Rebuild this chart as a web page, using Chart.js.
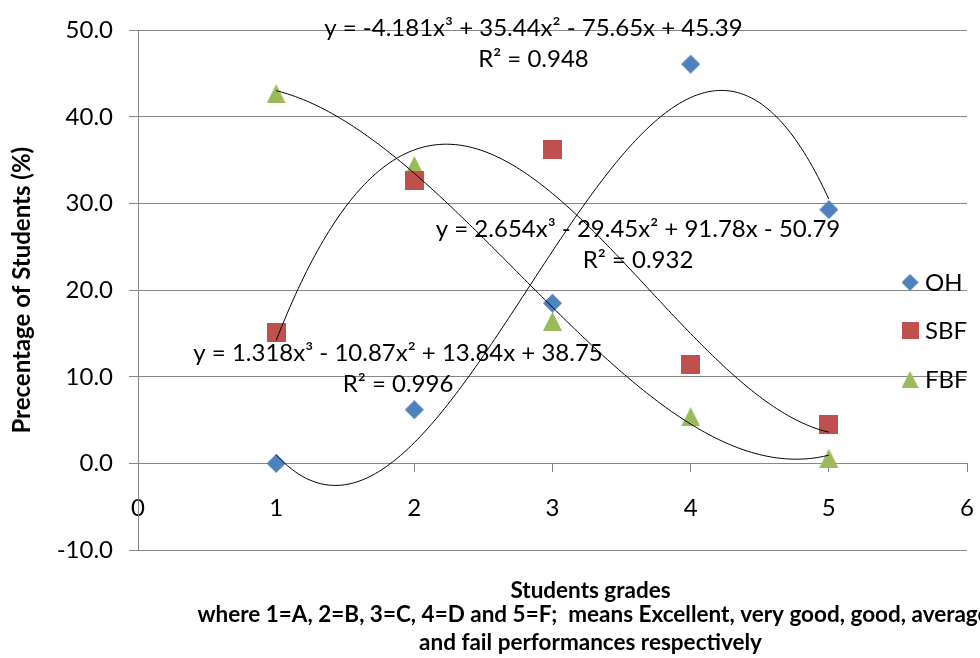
<!DOCTYPE html>
<html>
<head>
<meta charset="utf-8">
<title>Students grades</title>
<script src="https://cdn.jsdelivr.net/npm/chart.js@4.4.1/dist/chart.umd.min.js"></script>
<style>
  html, body { margin: 0; padding: 0; background: #fff; }
  canvas { display: block; }
</style>
</head>
<body>
<canvas id="gradesChart" width="980" height="658"></canvas>
<script>
// ---------- DATA ----------
const grades = [1, 2, 3, 4, 5];
const ohValues = [0, 6.2, 18.5, 46.1, 29.3];
const sbfValues = [15.1, 32.7, 36.2, 11.4, 4.5];
const fbfValues = [42.7, 34.4, 16.4, 5.4, 0.6];

// cubic trendline coefficients as printed on the chart (x³, x², x, const)
const ohFit = [-4.181, 35.44, -75.65, 45.39];
const sbfFit = [2.654, -29.45, 91.78, -50.79];
const fbfFit = [1.318, -10.87, 13.84, 38.75];

const ohLabel = ['y = -4.181x³ + 35.44x² - 75.65x + 45.39', 'R² = 0.948'];
const sbfLabel = ['y = 2.654x³ - 29.45x² + 91.78x - 50.79', 'R² = 0.932'];
const fbfLabel = ['y = 1.318x³ - 10.87x² + 13.84x + 38.75', 'R² = 0.996'];

const seriesNames = ['OH', 'SBF', 'FBF'];
const yTitle = 'Precentage of Students (%)';
const xTitle = [
  'Students grades',
  'where 1=A, 2=B, 3=C, 4=D and 5=F;  means Excellent, very good, good, average',
  'and fail performances respectively'
];

const colors = { OH: '#4F81BD', SBF: '#C0504D', FBF: '#9BBB59' };
const FONT = 'Lato, "Open Sans", sans-serif';

// ---------- MARKERS (excel style, centred in their box) ----------
function makeMarker(shape, size, color) {
  const c = document.createElement('canvas');
  c.width = size; c.height = size;
  const g = c.getContext('2d');
  g.fillStyle = color;
  g.beginPath();
  if (shape === 'diamond') {
    g.moveTo(size / 2, 0); g.lineTo(size, size / 2); g.lineTo(size / 2, size); g.lineTo(0, size / 2);
  } else if (shape === 'triangle') {
    g.moveTo(size / 2, 0); g.lineTo(size, size); g.lineTo(0, size);
  } else {
    g.rect(0, 0, size, size);
  }
  g.closePath();
  g.fill();
  return c;
}

const markers = {
  OH: makeMarker('diamond', 19, colors.OH),
  SBF: makeMarker('square', 19, colors.SBF),
  FBF: makeMarker('triangle', 19, colors.FBF)
};

function toPoints(xs, ys) {
  return xs.map((x, i) => ({ x: x, y: ys[i] }));
}

// trendline drawn from the printed equation, between first and last grade
function trendPoints(c) {
  const pts = [];
  const from = grades[0], to = grades[grades.length - 1];
  for (let i = 0; i <= 200; i++) {
    const x = from + (to - from) * i / 200;
    pts.push({ x: x, y: ((c[0] * x + c[1]) * x + c[2]) * x + c[3] });
  }
  return pts;
}

function trendSet(c) {
  return {
    type: 'line',
    data: trendPoints(c),
    borderColor: '#000',
    borderWidth: 1,
    pointRadius: 0,
    fill: false,
    tension: 0,
    order: 0
  };
}

function pointSet(name, values) {
  return {
    label: name,
    data: toPoints(grades, values),
    pointStyle: markers[name],
    pointRadius: 10,
    backgroundColor: colors[name],
    borderColor: colors[name],
    showLine: false,
    order: 1
  };
}

// ---------- TEXT: equations, legend, axis titles ----------
const equations = [
  { lines: ohLabel, x: 2.862, y: 49.33 },
  { lines: sbfLabel, x: 3.619, y: 26.1 },
  { lines: fbfLabel, x: 1.882, y: 11.8 }
];

const textPlugin = {
  id: 'chartTexts',
  afterDraw(chart) {
    const { ctx, chartArea: area, scales } = chart;
    ctx.save();
    ctx.fillStyle = '#000';

    // trendline equations
    ctx.font = '24px ' + FONT;
    ctx.textAlign = 'center';
    ctx.textBaseline = 'alphabetic';
    equations.forEach(eq => {
      const px = scales.x.getPixelForValue(eq.x);
      const py = scales.y.getPixelForValue(eq.y);
      eq.lines.forEach((t, i) => ctx.fillText(t, px, py + i * 31));
    });

    // legend
    ctx.textAlign = 'left';
    seriesNames.forEach((name, i) => {
      const cy = area.top + 252 + i * 48.5;
      ctx.drawImage(markers[name], area.right - 65.5, cy - 8.5, 17, 17);
      ctx.fillText(name, area.right - 42, cy + 8.5);
    });

    // y title
    ctx.font = 'bold 24px ' + FONT;
    ctx.save();
    ctx.translate(22, (area.top + area.bottom) / 2);
    ctx.rotate(-Math.PI / 2);
    ctx.textAlign = 'center';
    ctx.textBaseline = 'middle';
    ctx.fillText(yTitle, 0, 0);
    ctx.restore();

    // x title block
    ctx.font = 'bold 22.5px ' + FONT;
    ctx.textAlign = 'center';
    const cx = (area.left + area.right) / 2 + 38;
    ctx.fillText(xTitle[0], cx, 597.5);
    ctx.fillText(xTitle[1], cx + 3, 621.5);
    ctx.fillText(xTitle[2], cx, 650);
    ctx.restore();
  }
};

// ---------- CHART ----------
const chart = new Chart(document.getElementById('gradesChart').getContext('2d'), {
  type: 'scatter',
  data: {
    datasets: [
      trendSet(ohFit),
      trendSet(sbfFit),
      trendSet(fbfFit),
      pointSet('OH', ohValues),
      pointSet('SBF', sbfValues),
      pointSet('FBF', fbfValues)
    ]
  },
  options: {
    responsive: false,
    animation: false,
    layout: { padding: { left: 0, top: 27, right: 13, bottom: 108 } },
    plugins: {
      legend: { display: false },
      tooltip: { enabled: false }
    },
    scales: {
      x: {
        type: 'linear',
        position: { y: 0 },
        min: 0,
        max: 6,
        // keep the label padding from shrinking the plot sideways
        afterFit: (scale) => { scale.paddingLeft = 0; scale.paddingRight = 0; },
        ticks: { stepSize: 1, padding: 22, maxRotation: 0, color: '#000', font: { family: FONT, size: 24 } },
        grid: { drawOnChartArea: false, tickLength: 8, color: '#868686' },
        border: { color: '#868686' }
      },
      y: {
        min: -10,
        max: 50,
        afterFit: (scale) => { scale.width = 138; },
        ticks: {
          stepSize: 10,
          padding: 16,
          color: '#000',
          font: { family: FONT, size: 24 },
          callback: (v) => v.toFixed(1)
        },
        grid: { color: '#868686', tickLength: 9 },
        border: { color: '#868686' }
      }
    }
  },
  plugins: [textPlugin]
});
</script>
</body>
</html>
